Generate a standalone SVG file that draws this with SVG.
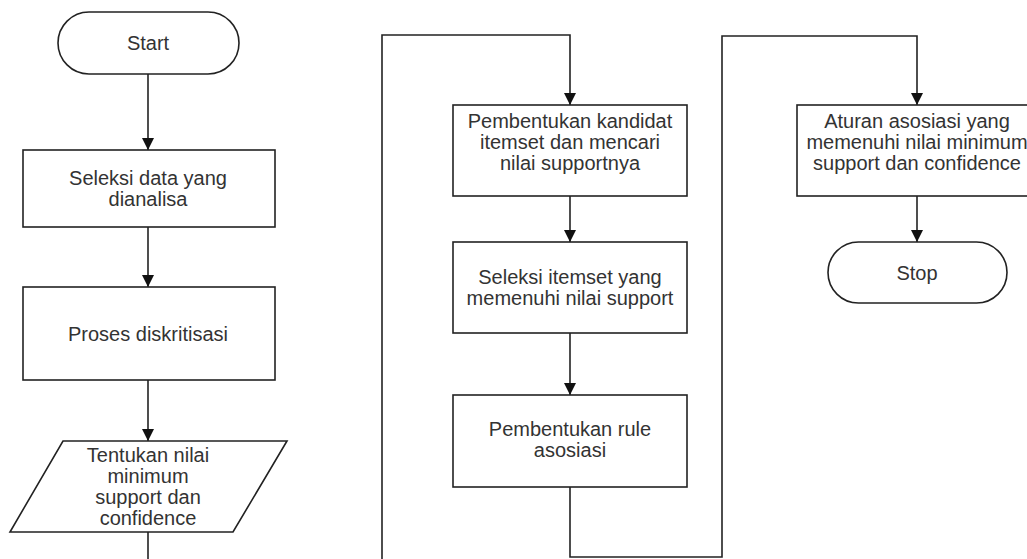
<svg xmlns="http://www.w3.org/2000/svg" width="1027" height="559" viewBox="0 0 1027 559">
<style>
.shape{fill:#fff;stroke:#222;stroke-width:1.6}
.conn{fill:none;stroke:#222;stroke-width:1.6}
text{font-family:"Liberation Sans",Arial,sans-serif;font-size:20px;fill:#333;text-anchor:middle}
</style>
<defs>
<marker id="arr" viewBox="0 0 12 12" refX="12" refY="6" markerWidth="12" markerHeight="12" markerUnits="userSpaceOnUse" orient="auto">
<path d="M0,0 L12,6 L0,12 z" fill="#111"/>
</marker>
</defs>
<rect width="1027" height="559" fill="#fff"/>
<g id="connectors">
<line class="conn" x1="148" y1="74" x2="148" y2="150" marker-end="url(#arr)"/>
<line class="conn" x1="148" y1="227" x2="148" y2="287" marker-end="url(#arr)"/>
<line class="conn" x1="148" y1="380" x2="148" y2="441" marker-end="url(#arr)"/>
<line class="conn" x1="148" y1="532" x2="148" y2="562"/>
<polyline class="conn" points="382,562 382,35 570,35 570,105" marker-end="url(#arr)"/>
<line class="conn" x1="570" y1="196" x2="570" y2="242" marker-end="url(#arr)"/>
<line class="conn" x1="570" y1="333" x2="570" y2="395" marker-end="url(#arr)"/>
<polyline class="conn" points="570,487 570,557 722,557 722,36 917,36 917,105" marker-end="url(#arr)"/>
<line class="conn" x1="917" y1="196" x2="917" y2="242" marker-end="url(#arr)"/>
</g>
<g id="start">
<rect class="shape" x="58" y="12" width="181" height="62" rx="31" ry="31"/>
<text x="148" y="50">Start</text>
</g>
<g id="seleksi-data">
<rect class="shape" x="23" y="150" width="252" height="77"/>
<text x="148" y="185">Seleksi data yang</text>
<text x="148" y="206">dianalisa</text>
</g>
<g id="diskritisasi">
<rect class="shape" x="23" y="287" width="252" height="93"/>
<text x="148" y="341">Proses diskritisasi</text>
</g>
<g id="tentukan">
<polygon class="shape" points="63,441 287,441 233,532 10,532"/>
<text x="148" y="462">Tentukan nilai</text>
<text x="148" y="483">minimum</text>
<text x="148" y="504">support dan</text>
<text x="148" y="525">confidence</text>
</g>
<g id="kandidat">
<rect class="shape" x="453" y="105" width="234" height="91"/>
<text x="570" y="128">Pembentukan kandidat</text>
<text x="570" y="149">itemset dan mencari</text>
<text x="570" y="170">nilai supportnya</text>
</g>
<g id="seleksi-itemset">
<rect class="shape" x="453" y="242" width="234" height="91"/>
<text x="570" y="284">Seleksi itemset yang</text>
<text x="570" y="305">memenuhi nilai support</text>
</g>
<g id="rule">
<rect class="shape" x="453" y="395" width="234" height="92"/>
<text x="570" y="436">Pembentukan rule</text>
<text x="570" y="457">asosiasi</text>
</g>
<g id="aturan">
<rect class="shape" x="797" y="105" width="240" height="91"/>
<text x="917" y="128">Aturan asosiasi yang</text>
<text x="917" y="149">memenuhi nilai minimum</text>
<text x="917" y="170">support dan confidence</text>
</g>
<g id="stop">
<rect class="shape" x="828" y="242" width="179" height="61" rx="30.5" ry="30.5"/>
<text x="917" y="280">Stop</text>
</g>
</svg>
